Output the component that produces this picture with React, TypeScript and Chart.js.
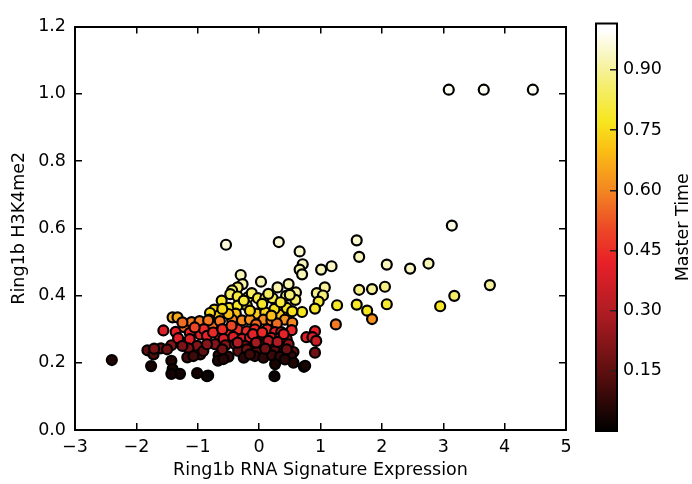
import React, { useEffect, useRef } from 'react';
import { Chart, registerables } from 'chart.js';

Chart.register(...registerables);

// ---------- data ----------
const xValues = [
  3.09, 3.66, 4.46, 3.14, 1.59, 1.63, 2.08, 2.46, 2.76, 3.76,
  1.63, 1.84, 2.05, 1.27, 1.59, 1.76, 1.84, 2.08, 2.95, 3.18,
  1.25, 0.66, 0.71, 0.66, 0.70, 1.01, 1.18, 1.07, 0.94, 1.04,
  0.97, 0.91, 0.70, 0.91, 0.77, 0.87, 0.93, 0.91, 0.73, -0.54,
  0.32, -0.30, -0.27, -0.35, 0.03, 0.30, 0.48, 0.60, 0.44, 0.59,
  0.50, -0.44, -0.47, -0.61, -0.35, -0.18, -0.12, -0.02, 0.10, 0.22,
  -0.49, -0.35, -0.20, -0.73, -0.66, -0.80, -0.38, -0.04, 0.10, 0.33,
  0.45, 0.54, 0.42, 0.54, -0.81, -0.76, -0.64, -0.44, -0.28, -0.15,
  0.07, 0.20, -0.05, 0.29, -0.66, -0.51, -0.35, -0.20, -0.07, 0.13,
  0.26, 0.36, 0.53, -0.58, -0.42, -0.28, -0.15, 0.02, 0.20, 0.34,
  0.45, -0.72, -0.55, -0.39, -0.23, -0.08, 0.04, 0.18, 0.33, 0.48,
  -0.34, -0.17, -0.04, 0.13, 0.26, 0.40, 0.56, -0.66, -0.50, -0.07,
  0.07, 0.21, 0.34, 0.52, -0.67, 0.26, 0.56, 0.75, -0.83, 0.25,
  -2.40, -1.76, -1.82, -1.72, -1.60, -1.56, -1.41, -1.33, -1.43, -1.36,
  -1.32, -1.22, -1.10, -0.97, -1.13, -1.13, -0.96, -1.01, -1.15, -1.17,
  -0.96, -0.91, -1.43, -1.41, -1.29, -1.43, -1.01, -0.85, -0.83, -1.71,
  -1.07, -0.58, -0.90, -0.85, -0.75, -0.60, -0.45, -0.10, 0.05, 0.40,
  0.15, -0.35, -0.05, 0.30, -0.60, -0.20, 0.10, 0.45, -0.85, -0.25,
  -0.15, 0.42, -0.50, -0.15, 0.25, 0.20, -0.60, -0.25, 0.05, 0.35,
  0.15, -1.25, -1.05, -1.50, -1.25,
];
const yValues = [
  1.012, 1.012, 1.012, 0.608, 0.564, 0.515, 0.492, 0.480, 0.495, 0.431,
  0.417, 0.419, 0.426, 0.371, 0.373, 0.355, 0.330, 0.374, 0.368, 0.399,
  0.314, 0.531, 0.493, 0.477, 0.463, 0.477, 0.487, 0.424, 0.407, 0.400,
  0.382, 0.361, 0.351, 0.294, 0.276, 0.276, 0.265, 0.230, 0.188, 0.551,
  0.559, 0.461, 0.434, 0.424, 0.441, 0.424, 0.434, 0.409, 0.399, 0.387,
  0.402, 0.415, 0.404, 0.385, 0.397, 0.395, 0.407, 0.392, 0.392, 0.392,
  0.363, 0.370, 0.370, 0.358, 0.340, 0.348, 0.346, 0.346, 0.350, 0.343,
  0.363, 0.353, 0.328, 0.319, 0.328, 0.311, 0.324, 0.328, 0.326, 0.328,
  0.328, 0.326, 0.314, 0.317, 0.284, 0.294, 0.299, 0.294, 0.299, 0.299,
  0.291, 0.291, 0.297, 0.271, 0.277, 0.271, 0.274, 0.277, 0.274, 0.274,
  0.270, 0.255, 0.252, 0.255, 0.250, 0.252, 0.255, 0.250, 0.252, 0.255,
  0.235, 0.230, 0.232, 0.228, 0.235, 0.230, 0.232, 0.222, 0.218, 0.220,
  0.215, 0.222, 0.218, 0.220, 0.206, 0.196, 0.200, 0.191, 0.162, 0.160,
  0.208, 0.190, 0.237, 0.225, 0.243, 0.296, 0.335, 0.335, 0.252, 0.292,
  0.273, 0.306, 0.321, 0.324, 0.289, 0.270, 0.284, 0.250, 0.243, 0.216,
  0.225, 0.235, 0.206, 0.181, 0.167, 0.167, 0.169, 0.160, 0.326, 0.242,
  0.220, 0.211, 0.300, 0.280, 0.290, 0.300, 0.310, 0.285, 0.290, 0.285,
  0.265, 0.260, 0.260, 0.262, 0.240, 0.240, 0.242, 0.240, 0.255, 0.215,
  0.225, 0.210, 0.345, 0.355, 0.360, 0.340, 0.360, 0.385, 0.375, 0.380,
  0.405, 0.320, 0.305, 0.240, 0.250,
];
const timeValues = [
  0.99, 0.99, 0.99, 0.97, 0.95, 0.93, 0.93, 0.94, 0.93, 0.90,
  0.88, 0.90, 0.88, 0.78, 0.78, 0.77, 0.62, 0.79, 0.78, 0.85,
  0.58, 0.95, 0.93, 0.92, 0.93, 0.93, 0.94, 0.90, 0.88, 0.87,
  0.80, 0.78, 0.77, 0.42, 0.40, 0.40, 0.35, 0.18, 0.06, 0.96,
  0.96, 0.93, 0.92, 0.86, 0.93, 0.92, 0.92, 0.90, 0.88, 0.85,
  0.86, 0.85, 0.84, 0.78, 0.80, 0.80, 0.84, 0.80, 0.80, 0.82,
  0.77, 0.78, 0.77, 0.74, 0.72, 0.75, 0.70, 0.72, 0.74, 0.72,
  0.77, 0.76, 0.62, 0.60, 0.58, 0.55, 0.58, 0.60, 0.60, 0.62,
  0.60, 0.58, 0.55, 0.56, 0.42, 0.44, 0.45, 0.44, 0.45, 0.45,
  0.42, 0.42, 0.44, 0.38, 0.40, 0.38, 0.40, 0.40, 0.38, 0.40,
  0.37, 0.22, 0.22, 0.24, 0.22, 0.23, 0.24, 0.22, 0.23, 0.24,
  0.15, 0.14, 0.15, 0.14, 0.15, 0.14, 0.15, 0.08, 0.08, 0.08,
  0.07, 0.09, 0.08, 0.08, 0.05, 0.04, 0.05, 0.04, 0.02, 0.02,
  0.05, 0.04, 0.15, 0.12, 0.18, 0.40, 0.68, 0.66, 0.22, 0.42,
  0.40, 0.55, 0.58, 0.58, 0.42, 0.40, 0.42, 0.22, 0.20, 0.10,
  0.12, 0.15, 0.05, 0.04, 0.03, 0.03, 0.03, 0.02, 0.58, 0.20,
  0.10, 0.06, 0.45, 0.42, 0.44, 0.45, 0.50, 0.42, 0.44, 0.42,
  0.30, 0.30, 0.28, 0.30, 0.18, 0.18, 0.18, 0.18, 0.22, 0.06,
  0.10, 0.06, 0.70, 0.74, 0.76, 0.70, 0.75, 0.80, 0.78, 0.80,
  0.84, 0.56, 0.50, 0.18, 0.20,
];

const xTicks = [-3, -2, -1, 0, 1, 2, 3, 4, 5];
const yTicks = [0, 0.2, 0.4, 0.6, 0.8, 1.0, 1.2];
const colorbarTicks = [0.15, 0.3, 0.45, 0.6, 0.75, 0.9];
const colorbarMin = 0;
const colorbarMax = 1.0156;

// colormap stops: [position, r, g, b]
const cmapStops: number[][] = [
  [0.0, 0, 0, 0],
  [0.15, 95, 15, 15],
  [0.3, 178, 28, 36],
  [0.42, 232, 32, 40],
  [0.5, 236, 70, 38],
  [0.6, 243, 135, 34],
  [0.7, 251, 190, 20],
  [0.77, 246, 230, 30],
  [0.86, 245, 238, 110],
  [0.93, 248, 245, 185],
  [1.0, 255, 255, 255],
];

const FONT_FAMILY = "'DejaVu Sans', sans-serif";
const FONT_SIZE = 17.5;

function cmap(t: number): string {
  const v = Math.max(0, Math.min(1, t));
  for (let i = 1; i < cmapStops.length; i++) {
    const a = cmapStops[i - 1];
    const b = cmapStops[i];
    if (v <= b[0]) {
      const f = (v - a[0]) / (b[0] - a[0] || 1);
      const r = Math.round(a[1] + (b[1] - a[1]) * f);
      const g = Math.round(a[2] + (b[2] - a[2]) * f);
      const bl = Math.round(a[3] + (b[3] - a[3]) * f);
      return `rgb(${r},${g},${bl})`;
    }
  }
  return 'rgb(255,255,255)';
}

const minus = (v: number | string) => String(v).replace('-', '\u2212');

export default function App() {
  const mainRef = useRef<HTMLCanvasElement | null>(null);
  const cbRef = useRef<HTMLCanvasElement | null>(null);

  useEffect(() => {
    document.body.style.margin = '0';
    const font = { family: FONT_FAMILY, size: FONT_SIZE };
    const gridOpts = {
      display: true,
      drawOnChartArea: false,
      drawTicks: true,
      tickLength: -7,
      color: '#000',
      lineWidth: 1.5,
    };
    const borderOpts = { display: true, color: '#000', width: 2 };

    const points = xValues.map((x, i) => ({ x, y: yValues[i] }));
    const main = new Chart(mainRef.current as HTMLCanvasElement, {
      type: 'scatter',
      data: {
        datasets: [
          {
            data: points,
            backgroundColor: timeValues.map(cmap),
            borderColor: '#000',
            borderWidth: 2.2,
            pointRadius: 5,
            pointHoverRadius: 5,
          },
        ],
      },
      options: {
        animation: false,
        responsive: false,
        events: [],
        layout: { padding: { left: 0, right: 126, top: 21, bottom: 0 } },
        plugins: { legend: { display: false }, tooltip: { enabled: false } },
        scales: {
          x: {
            type: 'linear',
            position: 'bottom',
            min: -3,
            max: 5,
            afterBuildTicks: (s: any) => {
              s.ticks = xTicks.map((v) => ({ value: v }));
            },
            ticks: {
              color: '#000',
              font,
              padding: 14,
              maxRotation: 0,
              autoSkip: false,
              callback: (v: any) => minus(v),
            },
            grid: gridOpts,
            border: borderOpts,
            title: {
              display: true,
              text: 'Ring1b RNA Signature Expression',
              color: '#000',
              font,
              padding: { top: 0, bottom: 3.5 },
            },
            afterFit: (s: any) => {
              s.height = 54;
            },
          },
          y: {
            type: 'linear',
            position: 'left',
            min: 0,
            max: 1.2,
            afterBuildTicks: (s: any) => {
              s.ticks = yTicks.map((v) => ({ value: v }));
            },
            ticks: {
              color: '#000',
              font,
              padding: 16,
              autoSkip: false,
              callback: (v: any) => Number(v).toFixed(1),
            },
            grid: gridOpts,
            border: borderOpts,
            title: {
              display: true,
              text: 'Ring1b H3K4me2',
              color: '#000',
              font,
              padding: { top: 8.5, bottom: 0 },
            },
            afterFit: (s: any) => {
              s.width = 75;
            },
          },
          x2: {
            type: 'linear',
            position: 'top',
            min: -3,
            max: 5,
            afterBuildTicks: (s: any) => {
              s.ticks = xTicks.map((v) => ({ value: v }));
            },
            ticks: { display: false },
            grid: gridOpts,
            border: borderOpts,
            afterFit: (s: any) => {
              s.height = 0;
            },
          },
          y2: {
            type: 'linear',
            position: 'right',
            min: 0,
            max: 1.2,
            afterBuildTicks: (s: any) => {
              s.ticks = yTicks.map((v) => ({ value: v }));
            },
            ticks: { display: false },
            grid: gridOpts,
            border: borderOpts,
            afterFit: (s: any) => {
              s.width = 0;
            },
          },
        },
      },
    } as any);

    const colorbarPlugin = {
      id: 'colorbarFill',
      beforeDraw(chart: any) {
        const { ctx, chartArea } = chart;
        const ys = chart.scales.y;
        const y0 = ys.getPixelForValue(colorbarMin);
        const y1 = ys.getPixelForValue(colorbarMax);
        const grad = ctx.createLinearGradient(0, y0, 0, y1);
        cmapStops.forEach((s) => {
          const pos = (s[0] - colorbarMin) / (colorbarMax - colorbarMin);
          if (pos <= 1) grad.addColorStop(pos, `rgb(${s[1]},${s[2]},${s[3]})`);
        });
        grad.addColorStop(1, cmap(colorbarMax));
        ctx.save();
        ctx.fillStyle = grad;
        ctx.fillRect(chartArea.left, chartArea.top, chartArea.right - chartArea.left, chartArea.bottom - chartArea.top);
        ctx.restore();
      },
      afterDraw(chart: any) {
        const { ctx, chartArea } = chart;
        ctx.save();
        ctx.strokeStyle = '#000';
        ctx.lineWidth = 2;
        ctx.strokeRect(chartArea.left, chartArea.top, chartArea.right - chartArea.left, chartArea.bottom - chartArea.top);
        ctx.translate(117, (chartArea.top + chartArea.bottom) / 2);
        ctx.rotate(-Math.PI / 2);
        ctx.fillStyle = '#000';
        ctx.font = `${FONT_SIZE}px ${FONT_FAMILY}`;
        ctx.textAlign = 'center';
        ctx.textBaseline = 'middle';
        ctx.fillText('Master Time', 0, 0);
        ctx.restore();
      },
    };

    const cb = new Chart(cbRef.current as HTMLCanvasElement, {
      type: 'scatter',
      data: { datasets: [{ data: [] }] },
      options: {
        animation: false,
        responsive: false,
        events: [],
        layout: { padding: { left: 30, right: 0, top: 21, bottom: 53 } },
        plugins: { legend: { display: false }, tooltip: { enabled: false } },
        scales: {
          x: { display: false, min: 0, max: 1 },
          y: {
            type: 'linear',
            position: 'right',
            min: colorbarMin,
            max: colorbarMax,
            afterBuildTicks: (s: any) => {
              s.ticks = colorbarTicks.map((v) => ({ value: v }));
            },
            ticks: {
              color: '#000',
              font,
              padding: 13,
              autoSkip: false,
              callback: (v: any) => Number(v).toFixed(2),
            },
            grid: { ...gridOpts, color: '#222' },
            border: { display: false },
            afterFit: (s: any) => {
              s.width = 75;
            },
          },
        },
      },
      plugins: [colorbarPlugin],
    } as any);

    return () => {
      main.destroy();
      cb.destroy();
    };
  }, []);

  return (
    <div style={{ position: 'relative', width: 692, height: 484, background: '#fff' }}>
      <canvas
        ref={mainRef}
        width={692}
        height={484}
        style={{ position: 'absolute', left: 0, top: 0, width: 692, height: 484 }}
      />
      <canvas
        ref={cbRef}
        width={126}
        height={484}
        style={{ position: 'absolute', left: 566, top: 0, width: 126, height: 484 }}
      />
    </div>
  );
}
